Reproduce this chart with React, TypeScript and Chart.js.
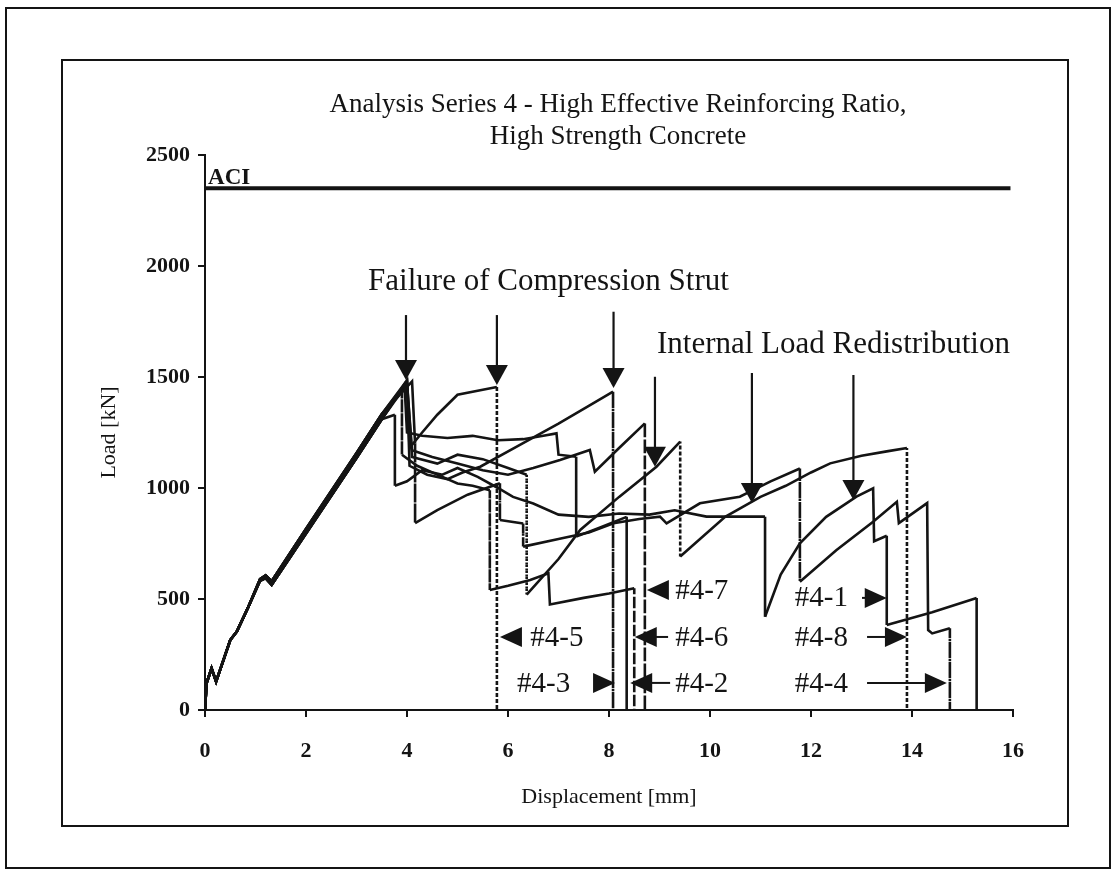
import React, { useEffect, useRef } from "react";
import { Chart, registerables } from "chart.js";
Chart.register(...registerables);

// ---- shared elastic branch (all specimens), read as upper / lower edge of the band ----
const initDisp = [0, 0.03, 0.13, 0.22, 0.5, 0.63, 0.86, 1.09, 1.2, 1.32, 2.0, 3.0, 3.5];
const initLoadUpper = [0, 120, 188, 128, 315, 353, 465, 590, 606, 580, 815, 1157, 1332];
const initLoadLower = [0, 120, 188, 128, 315, 353, 465, 582, 594, 564, 795, 1135, 1310];

// ---- post-peak branches per specimen ----
const disp41 = [3.76, 3.76, 4.0, 4.3, 4.7, 5.0, 5.4, 5.8, 6.1, 6.5, 7.0, 7.6, 8.2, 8.8, 9.3, 9.93, 11.09, 11.09, 11.4, 11.78, 12.3, 12.9, 13.23, 13.25, 13.5, 13.5, 14.4, 15.28, 15.28];
const load41 = [1330, 1010, 1030, 1080, 1060, 1090, 1050, 1000, 960, 930, 880, 870, 885, 880, 900, 871, 871, 420, 610, 751, 870, 961, 998, 760, 785, 383, 440, 504, 0];

const disp42 = [3.95, 4.0, 4.3, 4.8, 5.3, 5.8, 6.3, 6.7, 6.96, 7.0, 7.35, 7.35, 7.8, 8.35, 8.35];
const load42 = [1470, 1250, 1235, 1225, 1235, 1215, 1220, 1235, 1246, 1150, 1141, 781, 820, 870, 0];

const disp43 = [4.0, 4.05, 4.4, 4.8, 5.1, 5.45, 6.2, 7.0, 7.6, 8.08, 8.08];
const load43 = [1486, 1100, 1060, 1040, 1070, 1096, 1190, 1290, 1370, 1434, 0];

const disp44 = [4.1, 4.16, 4.16, 4.6, 5.2, 5.84, 5.84, 6.3, 6.3, 7.0, 7.6, 8.09, 8.6, 9.01, 9.14, 9.8, 10.59, 11.2, 11.78, 11.78, 12.5, 13.23, 13.7, 13.74, 14.3, 14.32, 14.4, 14.75, 14.75];
const load44 = [1480, 1200, 842, 900, 970, 1021, 856, 840, 736, 770, 800, 841, 860, 871, 841, 931, 961, 1030, 1088, 578, 720, 848, 938, 842, 932, 360, 345, 368, 0];

const disp45 = [4.0, 4.05, 4.3, 4.6, 5.0, 5.45, 5.78, 5.78];
const load45 = [1480, 1180, 1250, 1330, 1420, 1440, 1455, 0];

const disp46 = [3.9, 3.9, 4.2, 4.6, 5.0, 5.3, 5.64, 5.64, 6.0, 6.44, 6.8, 6.83, 7.5, 8.0, 8.5, 8.5];
const load46 = [1440, 1150, 1100, 1060, 1020, 1010, 990, 541, 560, 586, 616, 475, 505, 525, 548, 0];

const disp47 = [4.0, 4.1, 4.5, 5.0, 5.5, 6.0, 6.5, 7.03, 7.62, 7.72, 8.2, 8.71, 8.71];
const load47 = [1470, 1170, 1140, 1110, 1080, 1060, 1090, 1126, 1171, 1073, 1180, 1291, 0];

const disp48 = [4.0, 4.1, 4.6, 5.0, 5.5, 6.0, 6.37, 6.37, 7.0, 7.43, 8.2, 8.94, 9.41, 9.41, 10.3, 11.0, 11.5, 12.0, 12.38, 13.0, 13.5, 13.9, 13.9];
const load48 = [1480, 1140, 1110, 1150, 1130, 1090, 1060, 520, 680, 811, 960, 1096, 1209, 691, 870, 960, 1010, 1070, 1111, 1145, 1165, 1180, 0];

const specimenNames = ["#4-1", "#4-2", "#4-3", "#4-4", "#4-5", "#4-6", "#4-7", "#4-8"];
const specimenDisp = [disp41, disp42, disp43, disp44, disp45, disp46, disp47, disp48];
const specimenLoad = [load41, load42, load43, load44, load45, load46, load47, load48];
const specimenInit = [initLoadLower, initLoadUpper, initLoadLower, initLoadUpper, initLoadLower, initLoadUpper, initLoadLower, initLoadUpper];
const unloadDash = [[], [9, 5], [10, 4, 2, 4], [10, 4, 2, 4], [2, 4], [6, 3, 2, 3], [11, 5], [2, 4]];

// ---- ACI prediction ----
const aciDisp = [0, 15.95];
const aciLoad = [2350, 2350];

// ---- annotations (data units) ----
const strutArrowX = [3.98, 5.78, 8.09];
const strutArrowTip = [1486, 1464, 1450];
const strutArrowTop = [1779, 1779, 1794];
const redistArrowX = [8.91, 10.83, 12.84];
const redistArrowTip = [1096, 932, 946];
const redistArrowTop = [1501, 1518, 1509];

const labelText = ["#4-7", "#4-6", "#4-2", "#4-5", "#4-3", "#4-1", "#4-8", "#4-4"];
const labelTextX = [9.31, 9.31, 9.31, 6.44, 6.18, 11.68, 11.68, 11.68];
const labelY = [540, 329, 122, 329, 122, 505, 329, 122];
const labelTipX = [8.75, 8.51, 8.42, 5.84, 8.12, 13.5, 13.9, 14.69];
const labelTailX = [9.21, 9.17, 9.21, 6.27, 7.68, 13.01, 13.11, 13.11];

const titleLines = ["Analysis Series 4 - High Effective Reinforcing Ratio,", "High Strength Concrete"];
const strutText = "Failure of Compression Strut";
const strutTextPos = [3.23, 1928];
const redistText = "Internal Load Redistribution";
const redistTextPos = [8.95, 1644];
const aciText = "ACI";
const aciTextPos = [0.06, 2395];

const SERIF = "'Liberation Serif', 'DejaVu Serif', serif";
const INK = "#141414";

const annotationPlugin = {
  id: "annotations",
  beforeDraw(chart: any) {
    const c = chart.ctx;
    c.save();
    c.fillStyle = "#ffffff";
    c.fillRect(0, 0, chart.width, chart.height);
    c.strokeStyle = INK;
    c.lineWidth = 2;
    c.strokeRect(6, 8, 1104, 860);
    c.strokeRect(62, 60, 1006, 766);
    // two-line chart title
    c.fillStyle = INK;
    c.font = `27px ${SERIF}`;
    c.textAlign = "center";
    c.textBaseline = "middle";
    c.fillText(titleLines[0], 618, 105);
    c.fillText(titleLines[1], 618, 137);
    c.restore();
  },
  afterDatasetsDraw(chart: any) {
    const c = chart.ctx;
    const xs = chart.scales.x;
    const ys = chart.scales.y;
    const px = (v: number) => xs.getPixelForValue(v);
    const py = (v: number) => ys.getPixelForValue(v);
    c.save();
    c.fillStyle = INK;
    c.strokeStyle = INK;

    const vArrow = (x: number, top: number, tip: number) => {
      const X = px(x), T = py(top), P = py(tip);
      c.lineWidth = 2.2;
      c.beginPath();
      c.moveTo(X, T);
      c.lineTo(X, P - 18);
      c.stroke();
      c.beginPath();
      c.moveTo(X - 11, P - 20);
      c.lineTo(X + 11, P - 20);
      c.lineTo(X, P);
      c.closePath();
      c.fill();
    };
    strutArrowX.forEach((x, i) => vArrow(x, strutArrowTop[i], strutArrowTip[i]));
    redistArrowX.forEach((x, i) => vArrow(x, redistArrowTop[i], redistArrowTip[i]));

    c.font = `29px ${SERIF}`;
    c.textBaseline = "middle";
    c.textAlign = "left";
    labelText.forEach((t, i) => {
      const Y = py(labelY[i]);
      const tip = px(labelTipX[i]);
      const tail = px(labelTailX[i]);
      const dir = tail > tip ? 1 : -1;
      const headLen = 22;
      c.fillText(t, px(labelTextX[i]), Y + 1);
      if (Math.abs(tail - tip) > headLen + 2) {
        c.lineWidth = 2;
        c.beginPath();
        c.moveTo(tip + dir * headLen * 0.8, Y);
        c.lineTo(tail, Y);
        c.stroke();
      }
      c.beginPath();
      c.moveTo(tip, Y);
      c.lineTo(tip + dir * headLen, Y - 10);
      c.lineTo(tip + dir * headLen, Y + 10);
      c.closePath();
      c.fill();
    });

    c.font = `31px ${SERIF}`;
    c.fillText(strutText, px(strutTextPos[0]), py(strutTextPos[1]));
    c.fillText(redistText, px(redistTextPos[0]), py(redistTextPos[1]));
    c.font = `bold 23px ${SERIF}`;
    c.fillText(aciText, px(aciTextPos[0]), py(aciTextPos[1]));
    c.restore();
  },
};

export default function App() {
  const ref = useRef<HTMLCanvasElement | null>(null);
  useEffect(() => {
    document.body.style.margin = "0";
    const toPts = (xs: number[], ys: number[]) => xs.map((x, i) => ({ x, y: ys[i] }));
    const datasets: any[] = specimenNames.map((name, i) => {
      const dash = unloadDash[i];
      return {
        label: name,
        data: toPts(initDisp.concat(specimenDisp[i]), specimenInit[i].concat(specimenLoad[i])),
        borderColor: INK,
        borderWidth: 2.6,
        pointRadius: 0,
        tension: 0,
        fill: false,
        segment: {
          borderDash: (ctx: any) => (ctx.p0.parsed.x === ctx.p1.parsed.x ? dash : undefined),
        },
      };
    });
    datasets.push({
      label: "ACI",
      data: toPts(aciDisp, aciLoad),
      borderColor: INK,
      borderWidth: 4,
      pointRadius: 0,
      fill: false,
    });
    const chart = new Chart(ref.current as HTMLCanvasElement, {
      type: "line",
      data: { datasets },
      plugins: [annotationPlugin],
      options: {
        animation: false,
        responsive: false,
        devicePixelRatio: 1,
        layout: { padding: { left: 92, right: 101, top: 155, bottom: 62 } },
        plugins: {
          legend: { display: false },
          tooltip: { enabled: false },
          title: { display: false },
        },
        scales: {
          x: {
            type: "linear",
            min: 0,
            max: 16,
            afterFit: (s: any) => { s.height = 100; },
            ticks: { stepSize: 2, color: INK, padding: 21, font: { family: SERIF, size: 22, weight: "bold" } },
            grid: { drawOnChartArea: false, color: INK, lineWidth: 2, tickLength: 7 },
            border: { color: INK, width: 2 },
            title: { display: true, text: "Displacement [mm]", color: INK, padding: { top: 4, bottom: 0 }, font: { family: SERIF, size: 22 } },
          },
          y: {
            type: "linear",
            min: 0,
            max: 2500,
            afterFit: (s: any) => { s.width = 113; },
            ticks: {
              stepSize: 500,
              color: INK,
              padding: 8,
              font: { family: SERIF, size: 22, weight: "bold" },
              callback: (v: any) => String(v),
            },
            grid: { drawOnChartArea: false, color: INK, lineWidth: 2, tickLength: 7 },
            border: { color: INK, width: 2 },
            title: { display: true, text: "Load [kN]", color: INK, padding: { top: 4, bottom: 4 }, font: { family: SERIF, size: 22 } },
          },
        },
      },
    });
    return () => chart.destroy();
  }, []);
  return (
    <div style={{ width: 1114, height: 872 }}>
      <canvas ref={ref} width={1114} height={872} style={{ display: "block" }} />
    </div>
  );
}
